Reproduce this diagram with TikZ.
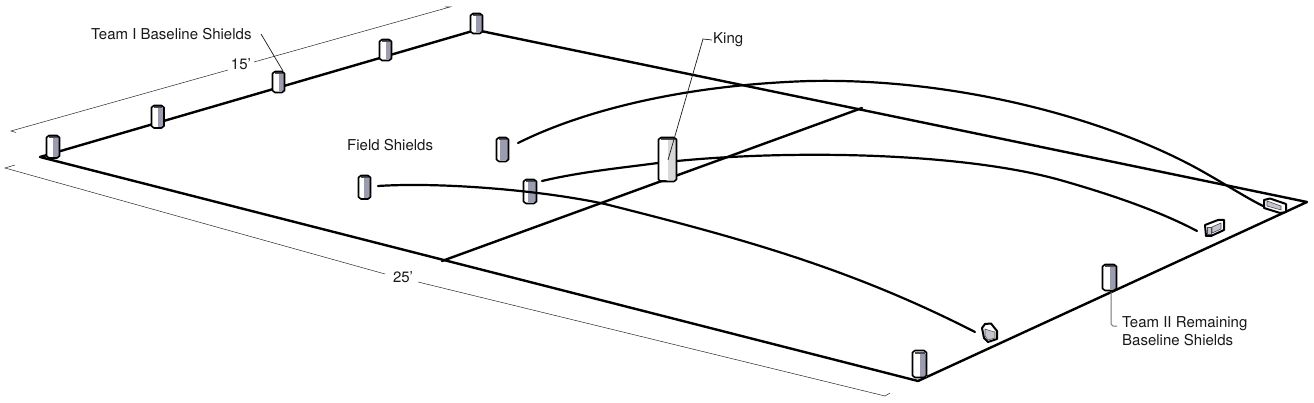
\documentclass[tikz,border=0pt]{standalone}
\usepackage{fontspec}
\setmainfont{TeX Gyre Heros}
\definecolor{shieldgray}{HTML}{9C9CB0}
\definecolor{kinggray}{HTML}{D8D8D8}
\tikzset{
  x=1pt,y=-1pt,
  court/.style={line width=2.4pt,line cap=round,line join=round,black},
  path1/.style={line width=2.2pt,line cap=round,black},
  dimline/.style={line width=0.5pt,black!85},
  leader/.style={line width=0.7pt,black!90},
  greyleader/.style={line width=1pt,black!55},
  lab/.style={font=\fontsize{15}{18}\selectfont,inner sep=0pt,text=black!90,align=left},
  shieldout/.style={line width=1.6pt,black,line join=round},
  fallen/.style={line width=2pt,black,line join=round,fill=white},
  fallenin/.style={line width=0.6pt,black!70,fill=shieldgray!60},
}
% x1 y1 x2 y2 split fill
\newcommand{\shieldbox}[6]{%
  \fill[white] (#1,#2+1) rectangle (#3,#4-1);
  \fill[#6] (#5,#2+3) rectangle (#3-0.5,#4-1);
  \fill[black!70] (#1+2,#2+1) -- (#3-2,#2+1) -- (#3-2,#2+3) -- (#1+2,#2+3) -- cycle;
  \draw[shieldout] (#1,#2+2) -- (#1+2.5,#2) -- (#3-2.5,#2) -- (#3,#2+2) -- (#3,#4-2) -- (#3-2.5,#4) -- (#1+2.5,#4) -- (#1,#4-2) -- cycle;
}
\begin{document}
\begin{tikzpicture}
\useasboundingbox (0,0) rectangle (1314,403);
\coordinate (A) at (40,157);
\coordinate (B) at (476,30);
\coordinate (C) at (1307,202);
\coordinate (D) at (918,381);
\coordinate (M1) at (442,261);
\coordinate (M2) at (862,108);
% court
\draw[court] (A) -- (B) -- (C) -- (D) -- cycle;
\draw[court] (M1) -- (M2);
% shields (baseline I)
\shieldbox{46.5}{135.5}{59.5}{158}{53}{shieldgray}
\shieldbox{151.5}{105.5}{164}{128}{158}{shieldgray}
\shieldbox{272.5}{71.5}{284.5}{92.5}{279}{shieldgray}
\shieldbox{379.5}{39.5}{391.5}{60.5}{386}{shieldgray}
\shieldbox{470.5}{13.5}{482.5}{33.5}{476}{shieldgray}
% field shields
\shieldbox{358.5}{175.5}{370.5}{199}{364}{shieldgray}
\shieldbox{496.5}{137.5}{508.5}{161.5}{500}{shieldgray}
\shieldbox{523.5}{179.5}{536.5}{203.5}{528}{shieldgray}
% team II
\shieldbox{1102.5}{264.5}{1116.5}{290.5}{1110}{shieldgray}
\shieldbox{912.5}{350.5}{926.5}{377.5}{920}{shieldgray}
% curves
\draw[path1] (378,186) .. controls (440,182) and (540,190) .. (605,204)
   .. controls (740,238) and (850,268) .. (975,332);
\draw[path1] (542,181) .. controls (580,172) and (620,168) .. (658,163);
\draw[path1] (677,161) .. controls (790,150) and (960,152) .. (1060,180)
   .. controls (1120,197) and (1165,214) .. (1197,231);
\draw[path1] (518,143) .. controls (580,112) and (680,85) .. (810,81)
   .. controls (960,78) and (1110,120) .. (1200,170)
   .. controls (1225,184) and (1245,197) .. (1263,206);
% king
\shieldbox{658.5}{137.5}{676.5}{181.5}{668}{kinggray}
% fallen shields
\draw[fallen] (982,328) -- (985,324) -- (991,323.5) -- (997,331) -- (997,339) -- (988,342) -- (984,338) -- cycle;
\draw[fallenin] (985,329) -- (991,331) -- (995,332) -- (995,338) -- (988,340) -- (985,336) -- cycle;
\draw[fallen] (1205,225) -- (1218,220) -- (1224,220) -- (1224,230) -- (1211,236) -- (1206,236) -- cycle;
\draw[fallenin] (1212,227) -- (1221,223) -- (1221,229) -- (1212,233) -- cycle;
\draw[fallenin] (1207,227) -- (1211,227) -- (1211,234) -- (1207,234) -- cycle;
\draw[fallen] (1264,200) -- (1270,198.5) -- (1286,204) -- (1286,212) -- (1280,213) -- (1264,208) -- cycle;
\draw[fallenin] (1267,201) -- (1281,206) -- (1281,210) -- (1267,206) -- cycle;
% labels
\node[lab,anchor=west] (t1) at (91,34) {Team I Baseline Shields};
\node[lab,anchor=center] (l15) at (241,64) {15'};
\node[lab,anchor=west] (fs) at (347,145) {Field Shields};
\node[lab,anchor=west] (king) at (713,40) {King};
\node[lab,anchor=center] (l25) at (403,277) {25'};
\node[lab,anchor=north west] (t2) at (1122,316) {Team II Remaining\\Baseline Shields};
% dimension lines
\coordinate (d1a) at (11,131); \coordinate (d1b) at (450,7);
\coordinate (d2a) at (5,168); \coordinate (d2b) at (885,396);
\draw[dimline] (16,132.5) -- (d1a) -- (228,70);
\draw[dimline] (254,62) -- (d1b) -- (445,7);
\draw[dimline] (15,165) -- (d2a) -- (385,274);
\draw[dimline] (418,282) -- (d2b) -- (890,393);
% leaders
\coordinate (s3) at (283,71);
\coordinate (k1) at (668,160);
\coordinate (k0) at (703,39);
\coordinate (g1) at (1111,292);
\draw[leader] (261,34) -- (s3);
\draw[leader] (king.west) ++(-1,0) -- (k0) -- (k1);
\draw[greyleader] (g1) -- (1111,324) -- (1113,326) -- (1117,326);
\end{tikzpicture}
\end{document}
